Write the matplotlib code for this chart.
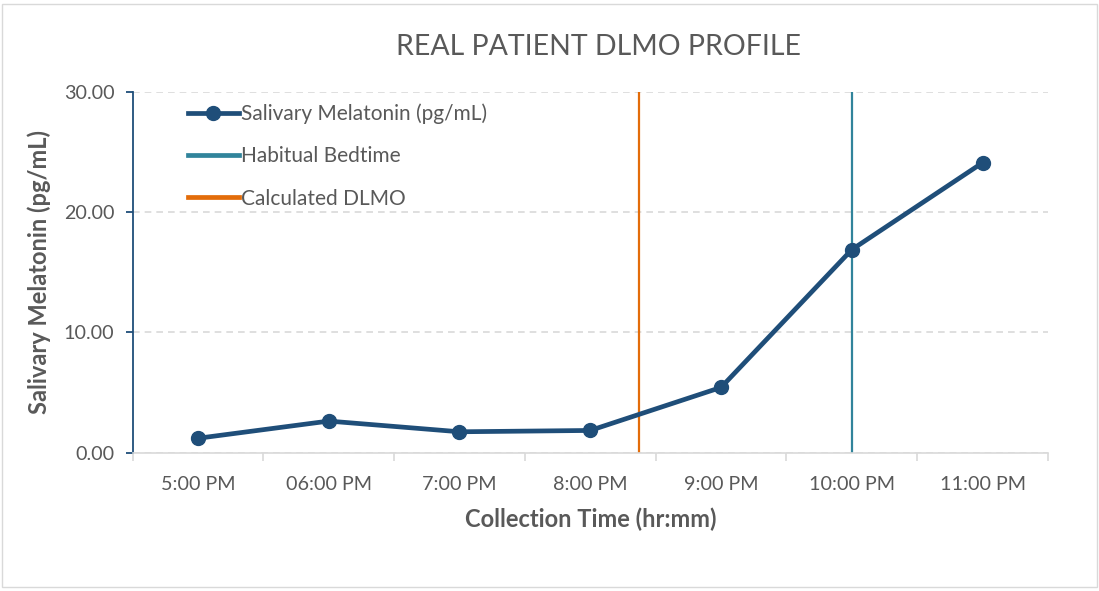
import matplotlib
matplotlib.use("Agg")
import matplotlib.pyplot as plt
from matplotlib.lines import Line2D
from matplotlib.patches import Rectangle
import numpy as np

categories = ["5:00 PM", "06:00 PM", "7:00 PM", "8:00 PM", "9:00 PM", "10:00 PM", "11:00 PM"]
melatonin = [1.20, 2.63, 1.74, 1.85, 5.43, 16.89, 24.12]
bedtime_pos = 5.0      # category position of habitual bedtime (10:00 PM)
dlmo_pos = 3.37        # category position of calculated DLMO
y_ticks = [0, 10, 20, 30]

plt.rcParams['font.family'] = ['Lato', 'DejaVu Sans']
GRAY = '#595959'
BLUE = '#1F4E79'
TEAL = '#31849B'
ORANGE = '#E36C09'

W, H = 1099, 591
fig = plt.figure(figsize=(W / 100, H / 100), dpi=100)
fig.patches.append(Rectangle((2 / W, 4 / H), (1096.5 - 2) / W, (587 - 4) / H, transform=fig.transFigure,
                             fill=False, edgecolor='#D9D9D9', linewidth=1.0))

ax = fig.add_axes([132.5 / W, (H - 452.7) / H, (1048 - 132.5) / W, (452.7 - 92) / H])
x = np.arange(len(categories))

ax.set_xlim(-0.5, len(categories) - 0.5)
ax.set_ylim(0, 30)

ax.yaxis.grid(True, color='#D9D9D9', linestyle=(0, (4, 3)), linewidth=1.2)
ax.set_axisbelow(True)

ax.axvline(bedtime_pos, color=TEAL, linewidth=1.6, zorder=2)
ax.axvline(dlmo_pos, color=ORANGE, linewidth=1.6, zorder=2)
ax.plot(x, melatonin, color=BLUE, linewidth=3.4, marker='o', markersize=10, zorder=3)

for s in ['top', 'right']:
    ax.spines[s].set_visible(False)
ax.spines['bottom'].set_color('#D9D9D9')
ax.spines['bottom'].set_linewidth(1.2)
ax.spines['left'].set_color(BLUE)
ax.spines['left'].set_linewidth(1.3)

ax.set_yticks(y_ticks)
ax.set_yticklabels([f"{v:.2f}" for v in y_ticks])
ax.tick_params(axis='y', colors=BLUE, length=5, width=1.3, direction='out', pad=8, labelsize=14.2,
               labelcolor=GRAY)

ax.set_xticks(x)
ax.set_xticklabels(categories)
ax.set_xticks(np.arange(-0.5, len(categories)), minor=True)
ax.tick_params(axis='x', which='major', length=0, pad=17, labelsize=14.2, labelcolor=GRAY)
ax.tick_params(axis='x', which='minor', length=6, width=1.2, color='#D9D9D9', direction='out')

ax.set_xlabel("Collection Time (hr:mm)", fontsize=17, fontweight='bold', color=GRAY, labelpad=10)
ax.set_ylabel("Salivary Melatonin (pg/mL)", fontsize=17, fontweight='bold', color=GRAY, labelpad=9)

fig.text(599 / W, 1 - 47 / H, "REAL PATIENT DLMO PROFILE", ha='center', va='center',
         fontsize=20.5, color=GRAY, fontweight='normal')

handles = [
    Line2D([], [], color=BLUE, linewidth=3.4, marker='o', markersize=10),
    Line2D([], [], color=TEAL, linewidth=3.4),
    Line2D([], [], color=ORANGE, linewidth=3.4),
]
labels = ["Salivary Melatonin (pg/mL)", "Habitual Bedtime", "Calculated DLMO"]
leg = ax.legend(handles, labels, loc='upper left', bbox_to_anchor=(0.04, 1.02), frameon=False,
                fontsize=15, labelspacing=1.07, handlelength=2.45, handletextpad=0.1,
                labelcolor=GRAY)

fig.savefig("out.png", dpi=100)
